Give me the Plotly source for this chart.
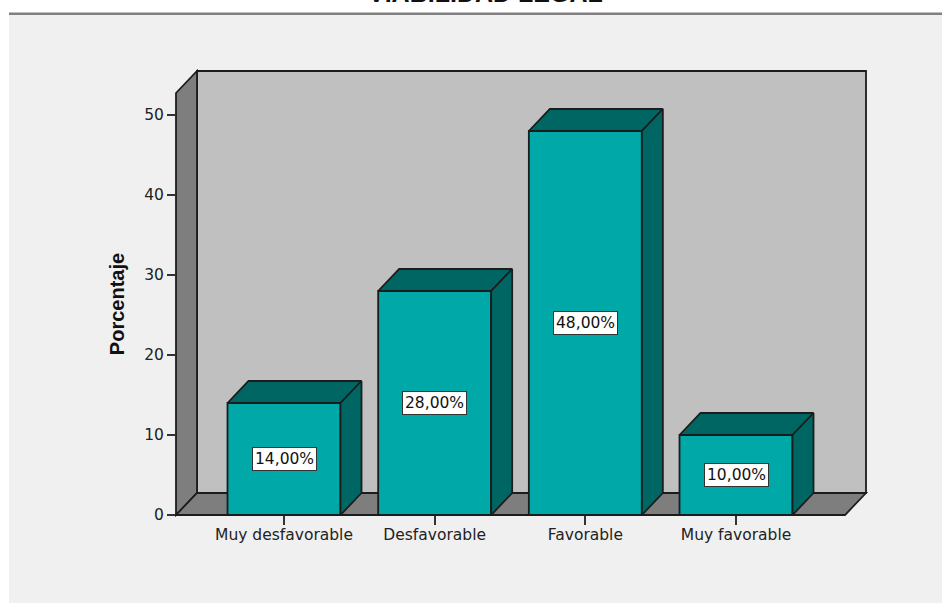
import plotly.graph_objects as go

categories = ["Muy desfavorable", "Desfavorable", "Favorable", "Muy favorable"]
percent = [14, 28, 48, 10]
labels = ["14,00%", "28,00%", "48,00%", "10,00%"]
y_ticks = [0, 10, 20, 30, 40, 50]

W, H = 942, 603
FONT = "DejaVu Sans"
LINE = "#1c1c1c"
FRONT = "#00A8A8"
DARK = "#006663"
WALL = "#C0C0C0"
SIDE = "#7E7E7E"
PANEL = "#F0F0F0"

# plot frame in pixels (front plane)
L, R, B, T = 176, 845, 515, 93
DX, DY = 21, 22
PX_PER_Y = 8.0
PX_PER_CAT = 150.67
CENTER0 = 284.0
BAR_W = 0.75

x_range = [(L - CENTER0) / PX_PER_CAT, (R - CENTER0) / PX_PER_CAT]
y_range = [0, (B - T) / PX_PER_Y]
dx = DX / PX_PER_CAT
dy = DY / PX_PER_Y


def px(x):
    return x / W


def py(y):
    return 1 - y / H


def poly(points, fill, line=LINE, width=1.8):
    path = "M " + " L ".join(f"{px(a):.5f} {py(b):.5f}" for a, b in points) + " Z"
    return dict(type="path", xref="paper", yref="paper", path=path, fillcolor=fill,
                line=dict(color=line, width=width), layer="below")


shapes = [
    dict(type="rect", xref="paper", yref="paper", x0=px(9), x1=1, y0=0, y1=py(15),
         fillcolor=PANEL, line_width=0, layer="below"),
    dict(type="rect", xref="paper", yref="paper", x0=px(9), x1=1, y0=py(15), y1=py(12.5),
         fillcolor="#808080", line_width=0, layer="below"),
    poly([(L + DX, T - DY), (R + DX, T - DY), (R + DX, B - DY), (L + DX, B - DY)], WALL),
    poly([(L, T), (L + DX, T - DY), (L + DX, B - DY), (L, B)], SIDE),
    poly([(L, B), (L + DX, B - DY), (R + DX, B - DY), (R, B)], SIDE),
]

fig = go.Figure()
fig.add_trace(go.Bar(x=list(range(len(percent))), y=percent, width=BAR_W,
                     marker=dict(color=FRONT, line=dict(color=LINE, width=1.8)),
                     hoverinfo="skip", showlegend=False))

for i, v in enumerate(percent):
    x0, x1 = i - BAR_W / 2, i + BAR_W / 2
    fig.add_trace(go.Scatter(
        x=[x0, x0 + dx, x1 + dx, x1, x0], y=[v, v + dy, v + dy, v, v],
        mode="lines", fill="toself", fillcolor=DARK, line=dict(color=LINE, width=1.8),
        cliponaxis=False, hoverinfo="skip", showlegend=False))
    fig.add_trace(go.Scatter(
        x=[x1, x1 + dx, x1 + dx, x1, x1], y=[v, v + dy, dy, 0, v],
        mode="lines", fill="toself", fillcolor=DARK, line=dict(color=LINE, width=1.8),
        cliponaxis=False, hoverinfo="skip", showlegend=False))

annotations = [
    dict(x=i, y=v / 2, xref="x", yref="y", text=t, showarrow=False,
         font=dict(family=FONT, size=15.5, color="#111111"), bgcolor="white",
         bordercolor="#333333", borderwidth=1, borderpad=2)
    for i, (v, t) in enumerate(zip(percent, labels))
]
annotations.append(dict(x=px(485), y=py(9), xref="paper", yref="paper", yanchor="bottom",
                        text="<b>VIABILIDAD LEGAL</b>", showarrow=False,
                        font=dict(family="Liberation Sans", size=25, color="#111111")))

fig.update_layout(
    width=W, height=H, autosize=False,
    margin=dict(l=0, r=0, t=0, b=0),
    paper_bgcolor="white", plot_bgcolor="rgba(0,0,0,0)",
    shapes=shapes, annotations=annotations, showlegend=False,
    xaxis=dict(domain=[px(L), px(R)], range=x_range, tickmode="array", automargin=False,
               tickvals=list(range(len(categories))), ticktext=categories,
               ticks="outside", ticklen=9, tickwidth=1.6, tickcolor="#333333",
               ticklabelstandoff=-4,
               showgrid=False, zeroline=False, showline=False,
               tickfont=dict(family=FONT, size=15.5, color="#222222")),
    yaxis=dict(domain=[py(B), py(T)], range=y_range, tickmode="array", automargin=False,
               tickvals=y_ticks, ticks="outside", ticklen=8, tickwidth=1.6,
               tickcolor="#333333", showgrid=False, zeroline=False, showline=False,
               tickfont=dict(family=FONT, size=15.5, color="#222222"),
               title=dict(text="<b>Porcentaje</b>", standoff=14,
                          font=dict(family="Liberation Sans", size=20, color="#111111"))),
)

fig.write_html("out.html", config={"displayModeBar": False},
               post_script="document.body.style.margin='0';document.documentElement.style.overflow='hidden';")
